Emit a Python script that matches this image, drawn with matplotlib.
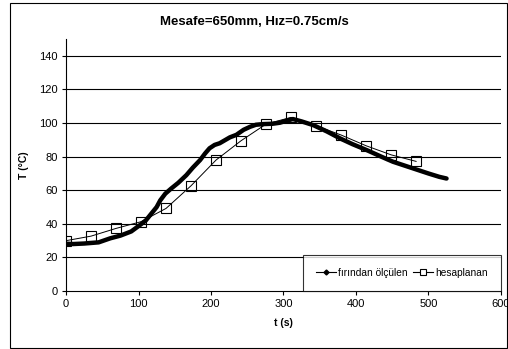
import matplotlib
matplotlib.use("Agg")
import matplotlib.pyplot as plt
from matplotlib.patches import Rectangle
from matplotlib.lines import Line2D

plt.rcParams['font.family'] = ['Liberation Sans', 'DejaVu Sans']

# Measured furnace temperature (s, °C)
t_meas = [0, 10, 25, 45, 61, 75, 90, 102, 110, 116, 125, 130, 137, 145, 155, 166,
          175, 185, 192, 198, 205, 212, 220, 226, 235, 245, 254, 262, 272, 285,
          295, 305, 313, 325, 341, 360, 378, 395, 415, 435, 451, 465, 479, 500,
          515, 525]
T_meas = [28.2, 28, 28.3, 29, 31.4, 33, 35.5, 39.3, 42, 45.2, 50, 54, 58, 61, 64.5, 69,
          73.5, 78, 82, 85, 87, 88, 90, 91.5, 93, 96, 97.8, 99, 99.4, 99.6,
          100.2, 101.5, 102.4, 101, 98.8, 95, 90.9, 87.5, 83.9, 80, 77, 75, 73, 70,
          68, 67]

# Calculated temperature (s, °C)
t_calc = [0, 34.5, 69, 103.5, 138, 172.5, 207, 241.5, 276, 310.5, 345, 379.5, 414, 448.5, 483]
T_calc = [30, 32.7, 37.3, 41.3, 49.2, 62.7, 78, 89.5, 99.4, 103.4, 98.4, 92.9, 86.5, 81.1, 77.2]

x_ticks = [0, 100, 200, 300, 400, 500, 600]
y_ticks = [0, 20, 40, 60, 80, 100, 120, 140]

fig = plt.figure(figsize=(5.08, 3.49), dpi=100)
ax = fig.add_axes([0.130, 0.166, 0.856, 0.722])

for y in y_ticks[1:]:
    ax.axhline(y, color='black', lw=0.8, zorder=1)

ax.plot(t_meas, T_meas, color='black', lw=3.2, solid_capstyle='round',
        solid_joinstyle='round', zorder=3, label='fırından ölçülen')
ax.plot(t_calc, T_calc, color='black', lw=0.7, marker='s', markersize=7,
        markerfacecolor='none', markeredgecolor='black', markeredgewidth=0.8,
        zorder=4, label='hesaplanan')

ax.set_xlim(0, 600)
ax.set_ylim(0, 150)
ax.set_xticks(x_ticks)
ax.set_yticks(y_ticks)
ax.tick_params(labelsize=8, length=3, width=0.8, direction='out', pad=3)
for s in ['top', 'right']:
    ax.spines[s].set_visible(False)
for s in ['left', 'bottom']:
    ax.spines[s].set_linewidth(0.8)

ax.set_xlabel('t (s)', fontsize=7.5, fontweight='bold', labelpad=6)
ax.set_ylabel('T (°C)', fontsize=7.5, fontweight='bold', labelpad=7)
fig.text(0.5, 0.937, 'Mesafe=650mm, Hız=0.75cm/s', ha='center', va='center',
         fontsize=9.5, fontweight='bold')

# Legend handles with small markers for the legend only
h1 = Line2D([], [], color='black', lw=0.8, marker='D', markersize=2.5)
h2 = Line2D([], [], color='black', lw=0.8, marker='s', markersize=5,
            markerfacecolor='white', markeredgewidth=0.8)
leg = ax.legend([h1, h2], ['fırından ölçülen', 'hesaplanan'], ncol=2,
                loc='lower right', bbox_to_anchor=(1.0, 0.0), fontsize=7.3,
                frameon=True, fancybox=False, borderpad=1.3, handlelength=2.0,
                handletextpad=0.2, columnspacing=0.5, borderaxespad=0)
leg.get_frame().set_edgecolor('black')
leg.get_frame().set_linewidth(0.8)
leg.set_zorder(5)

fig.patches.append(Rectangle((10 / 508, 1 / 349), 497 / 508, 345 / 349,
                             transform=fig.transFigure, fill=False,
                             edgecolor='black', lw=0.8))

fig.savefig('out.png', dpi=100)
